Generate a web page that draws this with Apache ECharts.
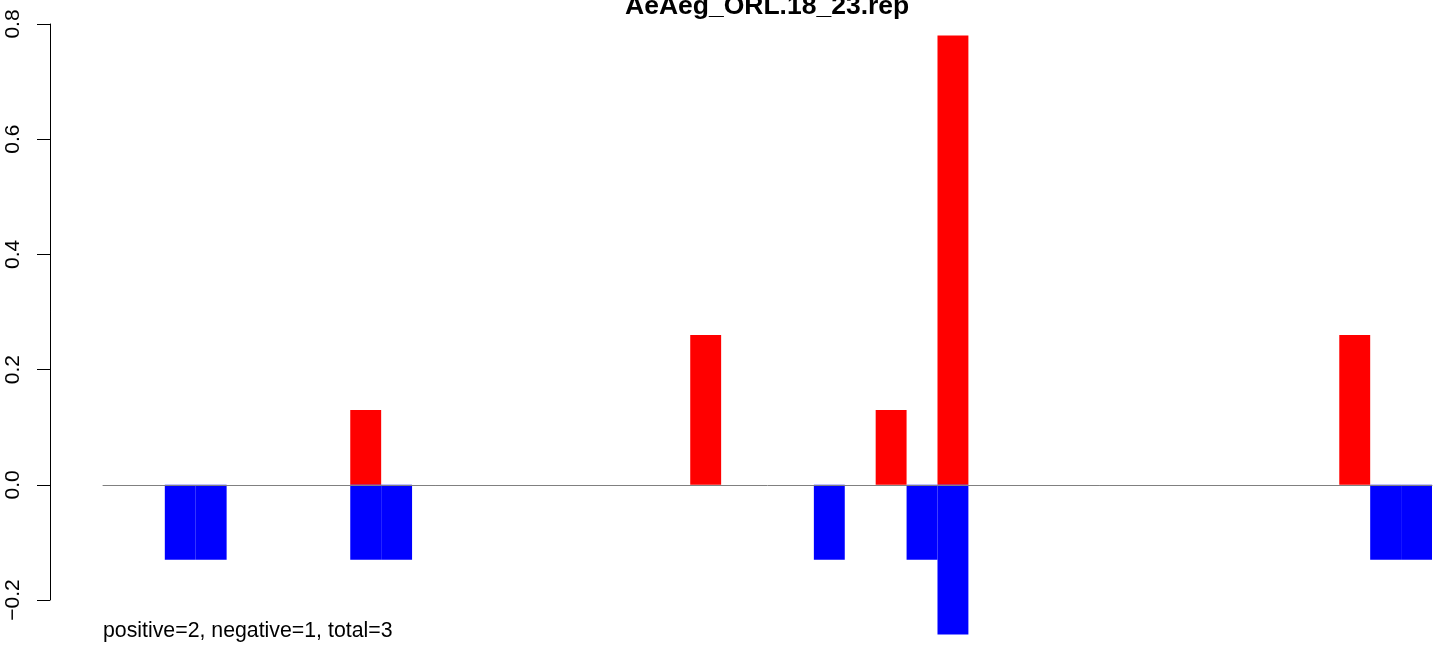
<!DOCTYPE html>
<html>
<head>
<meta charset="utf-8">
<script src="https://cdn.jsdelivr.net/npm/echarts@6/dist/echarts.min.js"></script>
<style>
html,body{margin:0;padding:0;background:#fff;}
#chart{width:1444px;height:645px;}
</style>
</head>
<body>
<div id="chart"></div>
<script>
// Chart text
var chartTitle = 'AeAeg_ORL.18_23.rep';
var footnote = 'positive=2, negative=1, total=3';

// 43 positions along the sequence (category slots)
var categories = ['1','2','3','4','5','6','7','8','9','10','11','12','13','14','15','16','17','18','19','20','21','22','23','24','25','26','27','28','29','30','31','32','33','34','35','36','37','38','39','40','41','42','43'];

// Positive (red) values per slot
var positiveValues = [0,0,0,0,0,0,0,0,0.13,0,0,0,0,0,0,0,0,0,0,0.26,0,0,0,0,0,0.13,0,0.78,0,0,0,0,0,0,0,0,0,0,0,0,0.26,0,0];

// Negative (blue) values per slot
var negativeValues = [0,0,-0.13,-0.13,0,0,0,0,-0.13,-0.13,0,0,0,0,0,0,0,0,0,0,0,0,0,-0.13,0,0,-0.13,-0.26,0,0,0,0,0,0,0,0,0,0,0,0,0,-0.13,-0.13];

// Y axis ticks
var yTicks = [-0.2, 0.0, 0.2, 0.4, 0.6, 0.8];

var chart = echarts.init(document.getElementById('chart'), null, {renderer: 'canvas'});
var fontFam = '"Liberation Sans", Arial, Helvetica, sans-serif';

chart.setOption({
  animation: false,
  backgroundColor: '#ffffff',
  title: [
    {
      text: chartTitle,
      left: 625,
      top: -7,
      padding: 0,
      textStyle: {fontFamily: fontFam, fontSize: 26.5, fontWeight: 'bold', color: '#000'}
    },
    {
      text: footnote,
      left: 103,
      top: 621,
      padding: 0,
      textStyle: {fontFamily: fontFam, fontSize: 21.3, fontWeight: 'normal', color: '#000'}
    }
  ],
  grid: {left: 103, right: 12, top: 24, bottom: 45, containLabel: false},
  xAxis: {
    type: 'category',
    data: categories,
    boundaryGap: true,
    z: 5,
    axisLine: {show: true, onZero: true, lineStyle: {color: '#808080', width: 1}},
    axisTick: {show: false},
    axisLabel: {show: false},
    splitLine: {show: false}
  },
  yAxis: {
    type: 'value',
    min: yTicks[0],
    max: yTicks[yTicks.length - 1],
    interval: 0.2,
    offset: 53,
    axisLine: {show: true, lineStyle: {color: '#000', width: 1}},
    axisTick: {show: true, inside: false, length: 13, lineStyle: {color: '#000', width: 1}},
    splitLine: {show: false},
    axisLabel: {
      rotate: 90,
      margin: 26,
      align: 'center',
      verticalAlign: 'bottom',
      fontFamily: fontFam,
      fontSize: 21,
      color: '#000',
      formatter: function (v) {
        var s = v.toFixed(1);
        return s.replace('-', '\u2212');
      }
    }
  },
  series: [
    {
      name: 'positive',
      type: 'bar',
      data: positiveValues,
      clip: false,
      barGap: '-100%',
      barCategoryGap: '0%',
      itemStyle: {color: '#ff0000'}
    },
    {
      name: 'negative',
      type: 'bar',
      data: negativeValues,
      clip: false,
      barGap: '-100%',
      barCategoryGap: '0%',
      itemStyle: {color: '#0000ff'}
    }
  ]
});
</script>
</body>
</html>
